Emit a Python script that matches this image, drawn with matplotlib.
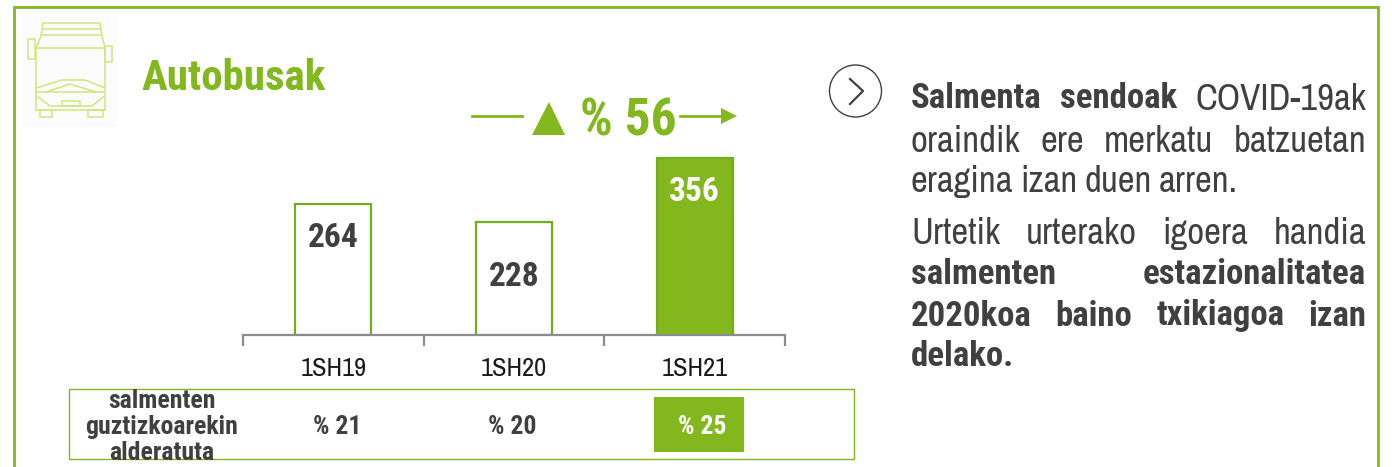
import matplotlib

matplotlib.use("Agg")
import matplotlib.pyplot as plt
from matplotlib.patches import Circle, Polygon, Rectangle

W, H = 1392, 467
GREEN = "#82B71E"
DARK = "#404040"
BOLD = ["Roboto Condensed", "Liberation Sans", "DejaVu Sans"]
REG = ["Archivo Narrow", "Roboto Condensed", "Liberation Sans", "DejaVu Sans"]

categories = ["1SH19", "1SH20", "1SH21"]
sales = [264, 228, 356]
shares = ["% 21", "% 20", "% 25"]
share_label = ["salmenten", "guztizkoarekin", "alderatuta"]
growth = "% 56"

# (words with bold flag, justified?, y px)
para_lines = [
    ([("Salmenta", True), ("sendoak", True), ("COVID-19ak", False)], True, 99),
    ([("oraindik", False), ("ere", False), ("merkatu", False), ("batzuetan", False)], True, 141),
    ([("eragina", False), ("izan", False), ("duen", False), ("arren.", False)], False, 182),
    ([("Urtetik", False), ("urterako", False), ("igoera", False), ("handia", False)], True, 234),
    ([("salmenten", True), ("estazionalitatea", True)], True, 275),
    ([("2020koa", True), ("baino", True), ("txikiagoa", True), ("izan", True)], True, 316),
    ([("delako.", True)], False, 357),
]


def justified(fig, bg, words, justify, y, x0=911, x1=1366):
    r = fig.canvas.get_renderer()
    items = []
    total = 0
    for word, bold in words:
        t = bg.text(x0, y, word, fontsize=25 if bold else 26.5, color=DARK, family=BOLD if bold else REG,
                    fontweight="bold" if bold else "normal", va="center", ha="left")
        w = t.get_window_extent(r).width
        items.append((t, w))
        total += w
    gap = (x1 - x0 - total) / (len(words) - 1) if justify and len(words) > 1 else 7
    x = x0
    for t, w in items:
        t.set_x(x)
        x += w + gap


def draw_bus(bg):
    c = "#CFE67E"
    lw = 1.1
    # roof and shoulders
    bg.plot([36, 41, 43, 100, 102, 105], [48, 36, 23, 23, 36, 48], color=c, lw=lw)
    bg.plot([43, 100], [29, 29], color=c, lw=lw)
    bg.plot([42, 101], [35, 35], color=c, lw=lw)
    # body
    bg.plot([36, 36, 105, 105], [110, 48, 48, 110], color=c, lw=lw)
    bg.plot([36, 105], [110, 110], color=c, lw=lw)
    # mirrors
    bg.add_patch(Rectangle((28, 39), 7, 20, fc="none", ec=c, lw=lw))
    bg.add_patch(Rectangle((105, 46), 7, 16, fc="none", ec=c, lw=lw))
    # windscreen bottom, wipers and bumper
    bg.plot([36, 62, 85, 105], [88, 80, 80, 88], color=c, lw=lw)
    bg.plot([46, 70, 96], [92, 84, 92], color=c, lw=lw)
    bg.plot([36, 105], [92, 92], color=c, lw=lw)
    bg.plot([38, 50, 92, 103], [97, 106, 106, 97], color=c, lw=lw)
    bg.add_patch(Rectangle((62, 101), 18, 5, fc="none", ec=c, lw=lw))
    # wheels
    bg.add_patch(Rectangle((40, 110), 12, 7, fc="none", ec=c, lw=lw))
    bg.add_patch(Rectangle((88, 110), 15, 7, fc="none", ec=c, lw=lw))


def render():
    fig = plt.figure(figsize=(W / 100, H / 100), dpi=100, facecolor="white")
    bg = fig.add_axes([0, 0, 1, 1])
    bg.set_xlim(0, W)
    bg.set_ylim(H, 0)
    bg.axis("off")

    # outer frame, open at the bottom
    bg.plot([14, 14, 1378, 1378], [H, 6.5, 6.5, H], color=GREEN, lw=2.0, solid_joinstyle="miter")

    bg.add_patch(Rectangle((23, 16), 94, 111, fc="#FBFBFB", ec="none"))
    draw_bus(bg)
    bg.text(142, 78, "Autobusak", fontsize=31, color=GREEN, fontweight="bold", family=BOLD,
            va="center", ha="left")

    # growth arrow
    bg.plot([472, 522], [116, 116], color=GREEN, lw=2)
    bg.add_patch(Polygon([[532, 135], [565, 135], [549, 102]], fc=GREEN, ec="none"))
    bg.text(580, 122, growth, fontsize=37, color=GREEN, fontweight="bold", family=BOLD,
            va="center", ha="left")
    bg.plot([680, 722], [116, 116], color=GREEN, lw=2)
    bg.add_patch(Polygon([[721, 108], [737, 116], [721, 124]], fc=GREEN, ec="none"))

    # chevron
    bg.add_patch(Circle((855.5, 91), 26, fc="none", ec=DARK, lw=1))
    bg.plot([850, 863, 850], [79, 91, 104], color=DARK, lw=1.6)

    # bars
    ax = fig.add_axes([243 / W, 1 - 335 / H, (785 - 243) / W, 185 / H])
    ax.set_xlim(-0.5, 2.5)
    ax.set_ylim(0, 185 / 0.497)
    for i, v in enumerate(sales):
        last = i == len(sales) - 1
        ax.bar(i, v, width=0.42, color=GREEN if last else "white", edgecolor="#6FAE1E", linewidth=1.6)
        ax.annotate(str(v), (i, v), xytext=(0, -55 if i == 1 else -34), textcoords="offset pixels",
                    fontsize=24, fontweight="bold", family=BOLD, color="white" if last else DARK,
                    ha="center", va="center")
    ax.patch.set_alpha(0)
    ax.set_yticks([])
    ax.set_xticks([-0.5, 0.5, 1.5, 2.5])
    ax.set_xticklabels([])
    ax.tick_params(axis="x", length=8, width=1.6, color="#8C8C8C", direction="out")
    for spine in ["top", "right", "left"]:
        ax.spines[spine].set_visible(False)
    ax.spines["bottom"].set_color("#8C8C8C")
    ax.spines["bottom"].set_linewidth(1.6)
    for i, cat in enumerate(categories):
        ax.annotate(cat, (i, 0), xytext=(0, -33), textcoords="offset pixels", fontsize=19, family=REG,
                    color="#1a1a1a", ha="center", va="center", annotation_clip=False)

    # table strip
    bg.add_patch(Rectangle((68.5, 388.5), 785, 70, fc="none", ec=GREEN, lw=1.0))
    bg.add_patch(Rectangle((654, 397), 90, 55, fc=GREEN, ec="none"))
    for txt, y in zip(share_label, [401, 427, 453]):
        bg.text(162, y, txt, fontsize=18.5, fontweight="bold", family=BOLD, color=DARK, ha="center", va="center")
    for i, (txt, x) in enumerate(zip(shares, [337, 512, 702])):
        bg.text(x, 427, txt, fontsize=18.5, fontweight="bold", family=BOLD,
                color="white" if i == 2 else DARK, ha="center", va="center")

    fig.canvas.draw()
    for words, justify, y in para_lines:
        justified(fig, bg, words, justify, y)

    fig.savefig("out.png", facecolor="white")
    plt.close(fig)


if __name__ == "__main__":
    render()
